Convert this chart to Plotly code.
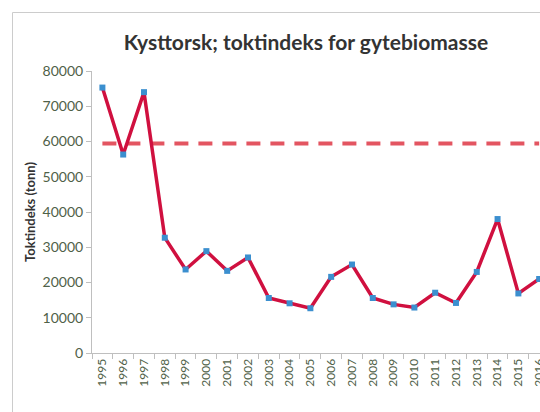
import plotly.graph_objects as go

years = [str(y) for y in range(1995, 2017)]
toktindeks = [75300, 56300, 74000, 32700, 23700, 28900, 23300, 27100, 15600, 14100,
              12700, 21600, 25100, 15600, 13800, 12900, 17100, 14200, 23000, 38000,
              16900, 21000]
referanse = [59400] * len(years)

W, H = 540, 412
L, R, T, B = 92, 0, 71, 59
pw, ph = W - L - R, H - T - B

def px(x):
    return (x - L) / pw

def py(y):
    return (H - B - y) / ph

fig = go.Figure()
fig.add_trace(go.Scatter(
    x=years, y=referanse, mode="lines",
    line=dict(color="#e35561", width=4, dash="14px,10px"),
    hoverinfo="skip", showlegend=False,
))
fig.add_trace(go.Scatter(
    x=years, y=toktindeks, mode="lines+markers",
    line=dict(color="#d0103f", width=3.5),
    marker=dict(symbol="square", size=6, color="#3b8fcf"),
    showlegend=False,
))

fig.add_shape(type="rect", xref="paper", yref="paper",
              x0=px(12.5), x1=px(560), y0=py(430), y1=py(12.5),
              line=dict(color="#cccccc", width=1), layer="below")

fig.update_layout(
    width=W, height=H,
    margin=dict(l=L, r=R, t=T, b=B, autoexpand=False),
    paper_bgcolor="white", plot_bgcolor="white",
    title=dict(text="<b>Kysttorsk; toktindeks for gytebiomasse</b>",
               x=306 / W, xanchor="center", y=1 - 43 / H, yanchor="middle",
               font=dict(family="Lato", size=21, color="#333333")),
    font=dict(family="Lato", color="#4f6148"),
)
fig.update_xaxes(
    type="category", range=[-0.5, 21.04], automargin=False,
    showline=True, linecolor="#bfbfbf", linewidth=1,
    ticks="outside", tickson="boundaries", ticklen=5, tickcolor="#bfbfbf",
    tickangle=-90, tickfont=dict(size=12, color="#4f6148", family="Lato"),
    showgrid=False, zeroline=False,
)
fig.update_yaxes(
    range=[0, 80000], dtick=10000, tickformat="d", automargin=False,
    showline=True, linecolor="#bfbfbf", linewidth=1,
    ticks="outside", ticklen=5, tickcolor="#bfbfbf",
    tickfont=dict(size=14, color="#4f6148", family="Lato"),
    showgrid=False, zeroline=False,
    title=dict(text="<b>Toktindeks (tonn)</b>", standoff=4,
               font=dict(size=13, color="#333333", family="Lato")),
)

fig.write_html(
    "out.html",
    config={"displayModeBar": False},
    post_script="document.body.style.margin='0px';document.body.style.overflow='hidden';",
)
